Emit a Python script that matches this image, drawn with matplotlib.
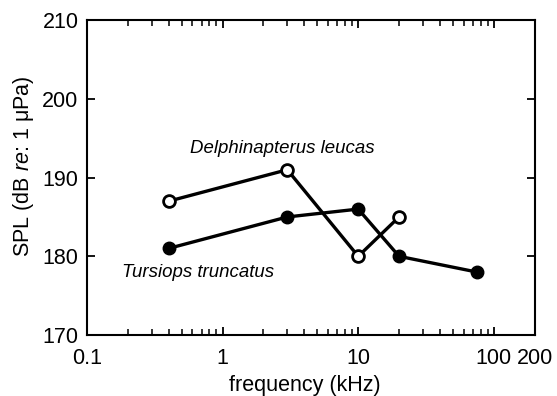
import matplotlib
matplotlib.use("Agg")
import matplotlib.pyplot as plt
from matplotlib.ticker import FixedLocator, FixedFormatter, LogLocator, NullFormatter

plt.rcParams['font.family'] = ['Liberation Sans', 'DejaVu Sans']
plt.rcParams['mathtext.fontset'] = 'custom'
plt.rcParams['mathtext.rm'] = 'Liberation Sans'
plt.rcParams['mathtext.it'] = 'Liberation Sans:italic'

# Delphinapterus leucas (open circles)
beluga_freq = [0.4, 3, 10, 20]
beluga_spl = [187, 191, 180, 185]

# Tursiops truncatus (filled circles)
tursiops_freq = [0.4, 3, 10, 20, 75]
tursiops_spl = [181, 185, 186, 180, 178]

xticks = [0.1, 1, 10, 100, 200]
xtick_labels = ["0.1", "1", "10", "100", "200"]
yticks = [170, 180, 190, 200, 210]

fig = plt.figure(figsize=(5.57, 3.96), dpi=100)
ax = fig.add_axes([0.156, 0.154, 0.804, 0.795])

ax.plot(beluga_freq, beluga_spl, color='black', lw=2.4, marker='o', ms=8.5,
        mfc='white', mec='black', mew=2)
ax.plot(tursiops_freq, tursiops_spl, color='black', lw=2.4, marker='o', ms=9,
        mfc='black', mec='black')

ax.set_xscale('log')
ax.set_xlim(0.1, 200)
ax.set_ylim(170, 210)
ax.xaxis.set_major_locator(FixedLocator(xticks))
ax.xaxis.set_major_formatter(FixedFormatter(xtick_labels))
ax.xaxis.set_minor_locator(LogLocator(base=10, subs=range(2, 10)))
ax.xaxis.set_minor_formatter(NullFormatter())
ax.set_yticks(yticks)

ax.tick_params(which='both', direction='in', top=True, right=True, labelsize=15.5)
ax.tick_params(which='major', length=6, width=1.3)
ax.tick_params(which='minor', length=4, width=1.1)
ax.tick_params(axis='x', which='major', pad=9)
ax.tick_params(axis='y', which='major', pad=6)
for s in ax.spines.values():
    s.set_linewidth(1.5)

ax.set_xlabel("frequency (kHz)", fontsize=15.5, va='center')
ax.xaxis.set_label_coords(0.487, -0.159)
ax.set_ylabel(r"SPL (dB $\it{re}$: 1 μPa)", fontsize=15.5, va='center')
ax.yaxis.set_label_coords(-0.141, 0.537)

ax.text(2.78, 193.7, "Delphinapterus leucas", style='italic', fontsize=13.4,
        ha='center', va='center')
ax.text(0.66, 177.9, "Tursiops truncatus", style='italic', fontsize=13.4,
        ha='center', va='center')

fig.savefig("out.png", dpi=100)
